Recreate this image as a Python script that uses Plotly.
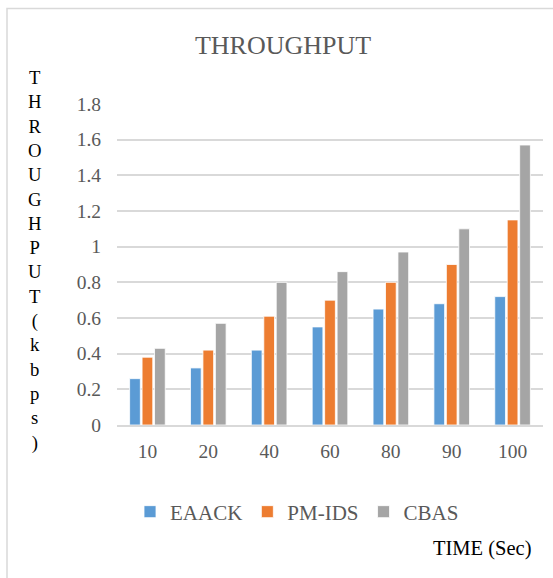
import plotly.graph_objects as go

categories = ["10", "20", "40", "60", "80", "90", "100"]
eaack = [0.26, 0.32, 0.42, 0.55, 0.65, 0.68, 0.72]
pm_ids = [0.38, 0.42, 0.61, 0.70, 0.80, 0.90, 1.15]
cbas = [0.43, 0.57, 0.80, 0.86, 0.97, 1.10, 1.57]
y_ticks = [0, 0.2, 0.4, 0.6, 0.8, 1.0, 1.2, 1.4, 1.6, 1.8]

W, H = 553, 578
L, R, T, B = 117, 10, 104, 153
pw, ph = W - L - R, H - T - B


def px_x(x):
    return (x - L) / pw


def px_y(y):
    return (H - B - y) / ph


SERIF = "Liberation Serif"
GRAY_TXT = "#595959"

fig = go.Figure()
for name, vals, col in [("EAACK", eaack, "#5B9BD5"),
                        ("PM-IDS", pm_ids, "#ED7D31"),
                        ("CBAS", cbas, "#A5A5A5")]:
    fig.add_trace(go.Bar(x=categories, y=vals, name=name,
                         marker=dict(color=col, line=dict(color="white", width=0.8))))

ytitle = "<br>".join(list("THROUGHPUT(kbps)"))

fig.update_layout(
    width=W, height=H,
    margin=dict(l=L, r=R, t=T, b=B),
    paper_bgcolor="white", plot_bgcolor="white",
    barmode="group", bargap=0.386, bargroupgap=0.14,
    font=dict(family=SERIF, color=GRAY_TXT, size=19),
    title=dict(text="THROUGHPUT", x=283 / W, xanchor="center",
               y=1 - 45 / H, yanchor="middle", yref="container",
               font=dict(family=SERIF, size=26, color=GRAY_TXT)),
    xaxis=dict(type="category", showline=True, linecolor="#d9d9d9", linewidth=1.5,
               showgrid=False, ticks="", ticklabelstandoff=8,
               tickfont=dict(family=SERIF, size=19.5, color=GRAY_TXT)),
    yaxis=dict(range=[0, 1.8], tickvals=y_ticks, showgrid=True, gridcolor="#d9d9d9",
               gridwidth=1.5, zeroline=False, showline=False, ticks="",
               ticklabelstandoff=15, tickfont=dict(family=SERIF, size=19.5, color=GRAY_TXT)),
    legend=dict(orientation="h", x=px_x(130), xanchor="left", y=px_y(512), yanchor="middle",
                font=dict(family=SERIF, size=21, color=GRAY_TXT), bgcolor="rgba(0,0,0,0)"),
    shapes=[dict(type="rect", xref="paper", yref="paper",
                 x0=px_x(7), x1=px_x(565), y0=px_y(590), y1=px_y(8.5),
                 line=dict(color="#d9d9d9", width=1.5), layer="below")],
    annotations=[
        dict(text=ytitle, xref="paper", yref="paper", x=px_x(35), y=px_y(260),
             xanchor="center", yanchor="middle", showarrow=False, align="center",
             font=dict(family=SERIF, size=18.7, color="black")),
        dict(text="TIME (Sec)", xref="paper", yref="paper", x=px_x(482), y=px_y(548),
             xanchor="center", yanchor="middle", showarrow=False,
             font=dict(family=SERIF, size=20.5, color="black")),
    ],
)

fig.write_html("out.html")
